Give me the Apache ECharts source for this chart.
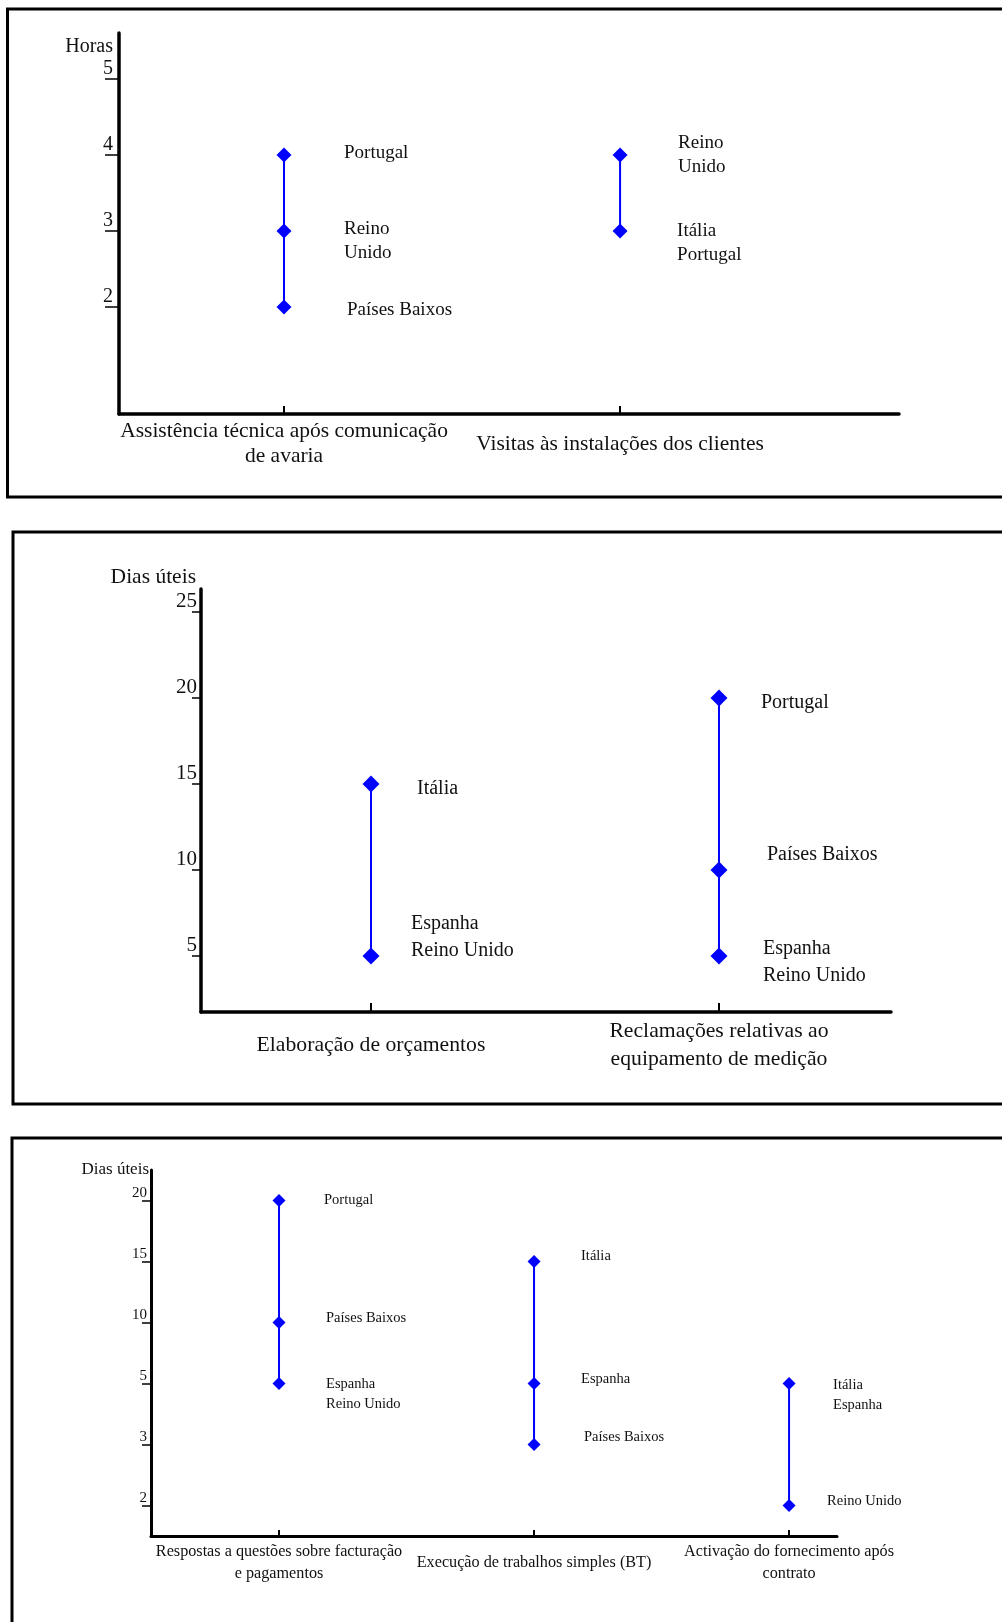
<!DOCTYPE html>
<html>
<head>
<meta charset="utf-8">
<title>Tempos de resposta – comparação entre países</title>
<script src="https://cdn.jsdelivr.net/npm/echarts@6/dist/echarts.min.js"></script>
<style>
  html, body { margin: 0; padding: 0; background: #fff; }
  #chart { width: 1002px; height: 1622px; }
</style>
</head>
<body>
<div id="chart"></div>
<script>
// ---- Painel 1: horas ----
const P1_CATEGORIES = ['Assistência técnica após comunicação\nde avaria', 'Visitas às instalações dos clientes'];
const P1_VALUES = [[4, 3, 2], [4, 3]];
const P1_COUNTRIES = [['Portugal', 'Reino\nUnido', 'Países Baixos'], ['Reino\nUnido', 'Itália\nPortugal']];
const P1_TICKS = [2, 3, 4, 5];

// ---- Painel 2: dias úteis ----
const P2_CATEGORIES = ['Elaboração de orçamentos', 'Reclamações relativas ao\nequipamento de medição'];
const P2_VALUES = [[15, 5], [20, 10, 5]];
const P2_COUNTRIES = [['Itália', 'Espanha\nReino Unido'], ['Portugal', 'Países Baixos', 'Espanha\nReino Unido']];
const P2_TICKS = [5, 10, 15, 20, 25];

// ---- Painel 3: dias úteis (escala ordinal) ----
const P3_CATEGORIES = ['Respostas a questões sobre facturação\ne pagamentos', 'Execução de trabalhos simples (BT)', 'Activação do fornecimento após\ncontrato'];
const P3_VALUES = [[20, 10, 5], [15, 5, 3], [5, 2]];
const P3_COUNTRIES = [['Portugal', 'Países Baixos', 'Espanha\nReino Unido'], ['Itália', 'Espanha', 'Países Baixos'], ['Itália\nEspanha', 'Reino Unido']];
const P3_TICKS = ['2', '3', '5', '10', '15', '20'];

// Label placement beside each marker: [dx from marker centre, dy]
const P1_LABEL_SHIFT = [[[60, -2], [60, 10], [63, 3]], [[58, 0], [57, 12]]];
const P2_LABEL_SHIFT = [[[46, 5], [40, -19]], [[42, 5], [48, -15], [44, 6]]];
const P3_LABEL_SHIFT = [[[45, 0], [47, -4], [47, 11]], [[47, -5], [47, -4], [50, -7]], [[44, 12], [38, -4]]];

const FONT = 'Liberation Serif';
const BLUE = '#0000ff';
const INK = '#111';

function rangeSeries(gridIdx, cats, values, countries, shifts, opts) {
  return values.map((vals, i) => ({
    type: 'line',
    name: cats[i],
    xAxisIndex: gridIdx,
    yAxisIndex: gridIdx,
    symbol: 'diamond',
    symbolSize: opts.symbolSize,
    lineStyle: { color: BLUE, width: 2 },
    itemStyle: { color: BLUE },
    emphasis: { disabled: true },
    label: {
      show: true,
      position: 'right',
      distance: 0,
      color: INK,
      fontFamily: FONT,
      fontSize: opts.fontSize,
      lineHeight: opts.lineHeight,
      align: 'left',
      verticalAlign: 'middle'
    },
    data: vals.map((v, j) => ({
      value: [i, opts.ordinal ? String(v) : v],
      label: {
        formatter: countries[i][j],
        offset: [shifts[i][j][0] - opts.symbolSize / 2, shifts[i][j][1]]
      }
    }))
  }));
}

function catXAxis(gridIdx, cats, min, max, o) {
  const idx = cats.map((c, i) => i);
  return {
    gridIndex: gridIdx,
    type: 'value',
    min: min,
    max: max,
    splitLine: { show: false },
    axisLine: { show: true, onZero: false, lineStyle: { color: '#000', width: o.lineWidth } },
    axisTick: { show: true, customValues: idx, inside: true, length: o.tickLen, lineStyle: { color: '#000', width: 2 } },
    axisLabel: {
      show: true,
      customValues: idx,
      formatter: v => cats[Math.round(v)],
      margin: o.margin,
      verticalAlign: 'middle',
      align: 'center',
      lineHeight: o.lineHeight,
      fontFamily: FONT,
      fontSize: o.fontSize,
      color: INK
    }
  };
}

function yName(o) {
  return {
    name: o.name,
    nameLocation: 'end',
    nameGap: o.gap,
    nameMoveOverlap: false,
    nameTextStyle: {
      fontFamily: FONT,
      fontSize: o.fontSize,
      color: INK,
      align: 'right',
      verticalAlign: 'middle',
      padding: [0, o.padRight, 0, 0]
    }
  };
}

const option = {
  animation: false,
  backgroundColor: '#fff',
  graphic: [
    { type: 'rect', silent: true, z: 0, shape: { x: 7.5, y: 9, width: 1010, height: 488 }, style: { fill: 'none', stroke: '#000', lineWidth: 3 } },
    { type: 'rect', silent: true, z: 0, shape: { x: 13, y: 532, width: 1010, height: 572 }, style: { fill: 'none', stroke: '#000', lineWidth: 3 } },
    { type: 'rect', silent: true, z: 0, shape: { x: 12, y: 1138, width: 1010, height: 600 }, style: { fill: 'none', stroke: '#000', lineWidth: 3 } }
  ],
  grid: [
    { left: 119, right: 103, top: 33, bottom: 1208, containLabel: false, outerBoundsMode: 'none' },
    { left: 201, right: 111, top: 589, bottom: 610, containLabel: false, outerBoundsMode: 'none' },
    { left: 151, right: 165, top: 1170, bottom: 86, containLabel: false, outerBoundsMode: 'none' }
  ],
  xAxis: [
    catXAxis(0, P1_CATEGORIES, -0.491, 1.830, { lineWidth: 3.5, tickLen: 8, margin: 30, lineHeight: 25, fontSize: 21.5 }),
    catXAxis(1, P2_CATEGORIES, -0.4885, 1.4943, { lineWidth: 3.5, tickLen: 9, margin: 33, lineHeight: 28, fontSize: 21.7 }),
    catXAxis(2, P3_CATEGORIES, -0.502, 2.188, { lineWidth: 3, tickLen: 6, margin: 27, lineHeight: 22, fontSize: 16.2 })
  ],
  yAxis: [
    Object.assign({
      gridIndex: 0,
      type: 'value',
      min: 0.592,
      max: 5.605,
      splitLine: { show: false },
      axisLine: { show: true, onZero: false, lineStyle: { color: '#000', width: 3.5 } },
      axisTick: { show: true, customValues: P1_TICKS, length: 14, lineStyle: { color: '#000', width: 1.5 } },
      axisLabel: { show: true, customValues: P1_TICKS, margin: 6, verticalAlign: 'bottom', fontFamily: FONT, fontSize: 20, color: INK }
    }, yName({ name: 'Horas', gap: -14, fontSize: 20, padRight: 6 })),
    Object.assign({
      gridIndex: 1,
      type: 'value',
      min: 1.744,
      max: 26.34,
      splitLine: { show: false },
      axisLine: { show: true, onZero: false, lineStyle: { color: '#000', width: 3.5 } },
      axisTick: { show: true, customValues: P2_TICKS, length: 9, lineStyle: { color: '#000', width: 1.5 } },
      axisLabel: { show: true, customValues: P2_TICKS, margin: 4, verticalAlign: 'bottom', fontFamily: FONT, fontSize: 21, color: INK }
    }, yName({ name: 'Dias úteis', gap: 12, fontSize: 21.5, padRight: 5 })),
    Object.assign({
      gridIndex: 2,
      type: 'category',
      data: P3_TICKS,
      boundaryGap: true,
      splitLine: { show: false },
      axisLine: { show: true, onZero: false, lineStyle: { color: '#000', width: 3 } },
      axisTick: { show: true, alignWithLabel: true, interval: 0, length: 9, lineStyle: { color: '#000', width: 1.5 } },
      axisLabel: { show: true, interval: 0, margin: 4, verticalAlign: 'bottom', fontFamily: FONT, fontSize: 15, color: INK }
    }, yName({ name: 'Dias úteis', gap: 0, fontSize: 17, padRight: 2 }))
  ],
  series: [].concat(
    rangeSeries(0, P1_CATEGORIES, P1_VALUES, P1_COUNTRIES, P1_LABEL_SHIFT, { symbolSize: 15, fontSize: 19, lineHeight: 24 }),
    rangeSeries(1, P2_CATEGORIES, P2_VALUES, P2_COUNTRIES, P2_LABEL_SHIFT, { symbolSize: 17, fontSize: 20, lineHeight: 27 }),
    rangeSeries(2, P3_CATEGORIES, P3_VALUES, P3_COUNTRIES, P3_LABEL_SHIFT, { symbolSize: 13, fontSize: 14.5, lineHeight: 20, ordinal: true })
  )
};

const chart = echarts.init(document.getElementById('chart'), null, { renderer: 'canvas' });
chart.setOption(option);
</script>
</body>
</html>
